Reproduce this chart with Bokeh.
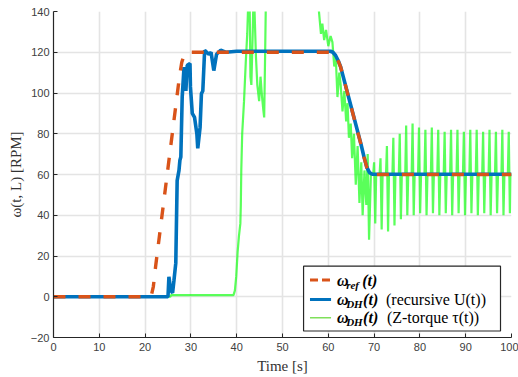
from bokeh.plotting import figure
from bokeh.models import BoxAnnotation, Arrow, Label, FixedTicker
from bokeh.embed import file_html
from bokeh.resources import INLINE

# ---- data ----
x_ticks = [0, 10, 20, 30, 40, 50, 60, 70, 80, 90, 100]
y_ticks = [-20, 0, 20, 40, 60, 80, 100, 120, 140]

ref_t = [0, 21.0, 21.4, 21.8, 22.3, 27.5, 28.0, 28.5, 29.0, 60.5, 61.0, 61.6, 62.2, 62.7,
         67.1, 67.8, 68.4, 69.0, 69.6, 100]
ref_v = [0, 0, 1, 5, 15, 108, 115, 118.5, 120, 120, 119.6, 118.2, 115.5, 112.7,
         75, 68.5, 63.5, 60.8, 60, 60]

rec_t = [0, 25.0, 25.2, 25.6, 26.0, 26.3, 26.7, 27.0, 27.4, 27.6, 27.8, 28.1, 28.5, 28.9,
         29.2, 29.8, 29.9, 30.3, 30.8, 31.3, 31.5, 32.0, 32.3, 32.6, 33.0, 33.9, 34.4,
         35.0, 35.6, 36.5, 37.6, 40.0, 60.5, 61.0, 61.6, 62.2, 62.7, 67.1, 67.8, 68.4,
         69.0, 69.6, 100]
rec_v = [0, 0, 9.8, 3, 2, 8, 16.5, 57, 62, 67, 68.6, 98, 112.7, 101,
         113.6, 114.4, 103, 90, 88, 80, 72.8, 83, 99.7, 101, 121, 119, 120,
         111, 119, 121, 120, 120.5, 120.5, 120, 118.4, 115.7, 112.8, 75.2, 68.6, 63.6,
         60.9, 60.1, 60.1]

ztq_t = [0, 25.5, 25.7, 39.3, 39.6, 39.9, 40.2, 40.5, 40.8, 40.9, 41.0, 41.2, 41.6, 42.0,
         42.3, 42.6, 42.8, 43.0, 43.2, 43.5, 43.7, 43.9, 44.2, 44.5, 44.9, 45.2, 45.5,
         45.8, 46.0, 46.2, 46.4, 47.0, 50.0, 55.0, 57.6, 58.0, 58.4, 58.7, 59.1, 59.5,
         60.0, 60.5, 60.9, 61.3, 61.6, 62.0, 62.4, 62.7, 63.1, 63.5, 63.9, 64.2, 64.5,
         64.9, 65.2, 65.6, 66.0, 66.4, 66.8, 67.2, 67.5, 67.9, 68.3, 68.6, 68.9, 69.3,
         69.8, 70.0, 70.25, 70.45,
         71.2, 71.4, 71.65, 71.85,
         72.6, 72.8, 73.05, 73.25,
         74.0, 74.2, 74.45, 74.65,
         75.4, 75.6, 75.85, 76.05,
         76.8, 77.0, 77.25, 77.45,
         78.2, 78.4, 78.65, 78.85,
         79.6, 79.8, 80.05, 80.25,
         81.0, 81.2, 81.45, 81.65,
         82.4, 82.6, 82.85, 83.05,
         83.8, 84.0, 84.25, 84.45,
         85.2, 85.4, 85.65, 85.85,
         86.6, 86.8, 87.05, 87.25,
         88.0, 88.2, 88.45, 88.65,
         89.4, 89.6, 89.85, 90.05,
         90.8, 91.0, 91.25, 91.45,
         92.2, 92.4, 92.65, 92.85,
         93.6, 93.8, 94.05, 94.25,
         95.0, 95.2, 95.45, 95.65,
         96.4, 96.6, 96.85, 97.05,
         97.8, 98.0, 98.25, 98.45,
         99.2, 99.4, 99.65, 99.85,
         100]
ztq_v = [0, 0, 0.8, 0.8, 3, 10, 22, 30, 36, 45, 62, 80, 96, 116,
         129, 150, 150, 108, 104, 130, 150, 140, 118, 104, 96, 108, 99,
         92, 88, 118, 150, 175, 185, 180, 150, 139, 129, 134, 126, 131,
         123, 128, 125, 113, 119, 98, 110, 104, 91, 101, 86, 95, 78,
         85, 68, 80, 55, 74, 46, 66, 40, 62, 45, 70, 28, 60,
         60, 66, 36, 60,
         60, 68, 33, 60,
         60, 74, 32, 60,
         60, 78, 35, 60,
         60, 80, 38, 60,
         60, 84, 40, 60,
         60, 85, 40, 60,
         60, 83, 41, 60,
         60, 82, 40, 60,
         60, 83, 41, 60,
         60, 82, 40, 60,
         60, 81, 41, 60,
         60, 82, 40, 60,
         60, 82, 41, 60,
         60, 81, 40, 60,
         60, 82, 41, 60,
         60, 82, 40, 60,
         60, 81, 41, 60,
         60, 82, 40, 60,
         60, 81, 41, 60,
         60, 82, 40, 60,
         60, 81, 41, 60,
         60]

ORANGE = "#D95319"
BLUE = "#0072BD"
GREEN = "#14ff14"
SERIF = "Liberation Serif"

p = figure(width=518, height=377, x_range=(0, 100), y_range=(-20, 140),
           output_backend="svg", toolbar_location=None,
           min_border_left=53, min_border_right=7, min_border_top=11, min_border_bottom=40)
p.outline_line_color = None
p.background_fill_color = "white"
p.border_fill_color = "white"

# grid
p.xaxis.ticker = FixedTicker(ticks=x_ticks)
p.yaxis.ticker = FixedTicker(ticks=y_ticks)
p.xgrid.ticker = FixedTicker(ticks=x_ticks)
p.ygrid.ticker = FixedTicker(ticks=y_ticks)
for g in (p.xgrid, p.ygrid):
    g.grid_line_color = "#e4e4e4"
    g.grid_line_width = 1.6

for ax in (p.xaxis, p.yaxis):
    ax.axis_line_color = "#262626"
    ax.axis_line_width = 1.2
    ax.major_tick_in = 4
    ax.major_tick_out = 0
    ax.major_tick_line_color = "#262626"
    ax.minor_tick_line_color = None
    ax.major_label_text_font = "Liberation Sans"
    ax.major_label_text_font_size = "11px"
    ax.major_label_text_color = "#404040"
    ax.axis_label_text_font = SERIF
    ax.axis_label_text_font_style = "normal"
    ax.axis_label_text_font_size = "15px"
    ax.axis_label_text_color = "#333333"

p.xaxis.major_label_standoff = 5
p.yaxis.major_label_standoff = 4
p.xaxis.axis_label = "Time [s]"
p.xaxis.axis_label_standoff = 4
p.yaxis.axis_label = "ω(t, L) [RPM]"
p.yaxis.axis_label_standoff = 4

# series
p.line(ztq_t, ztq_v, line_color=GREEN, line_width=2.2, line_alpha=0.7)
p.line(rec_t, rec_v, line_color=BLUE, line_width=3.6)
p.line(ref_t, ref_v, line_color=ORANGE, line_width=3.4, line_dash="12 13")

# legend (manual, to allow subscripts)
p.add_layout(BoxAnnotation(left=54.6, right=97.6, top=15.0, bottom=-16.8,
                           fill_color="white", fill_alpha=1.0,
                           line_color="#262626", line_width=1.2, line_alpha=1.0))
rows_y = [8.2, -1.3, -10.3]
p.add_layout(Arrow(end=None, x_start=56.0, x_end=60.6, y_start=rows_y[0], y_end=rows_y[0],
                   line_color=ORANGE, line_width=3, line_dash="8 4"))
p.add_layout(Arrow(end=None, x_start=56.0, x_end=60.6, y_start=rows_y[1], y_end=rows_y[1],
                   line_color=BLUE, line_width=3))
p.add_layout(Arrow(end=None, x_start=56.0, x_end=60.6, y_start=rows_y[2], y_end=rows_y[2],
                   line_color="#7fe05a", line_width=1.5))

def txt(x, y, s, size="16px", style="italic"):
    p.add_layout(Label(x=x, y=y, text=s, text_font=SERIF, text_font_size=size,
                       text_font_style=style, text_baseline="middle", text_color="black"))

txt(61.9, rows_y[0], "ω", style="bold italic")
txt(63.9, rows_y[0] - 2.2, "ref", size="11px", style="bold italic")
txt(67.4, rows_y[0], "(t)", style="bold italic")
txt(61.9, rows_y[1], "ω", style="bold italic")
txt(63.9, rows_y[1] - 2.2, "DH", size="11px", style="bold italic")
txt(67.6, rows_y[1], "(t)", style="bold italic")
txt(72.6, rows_y[1], "(recursive U(t))", size="16px", style="normal")
txt(61.9, rows_y[2], "ω", style="bold italic")
txt(63.9, rows_y[2] - 2.2, "DH", size="11px", style="bold italic")
txt(67.6, rows_y[2], "(t)", style="bold italic")
txt(72.8, rows_y[2], "(Z-torque τ(t))", size="16px", style="normal")

open("out.html", "w").write(file_html(p, INLINE))
